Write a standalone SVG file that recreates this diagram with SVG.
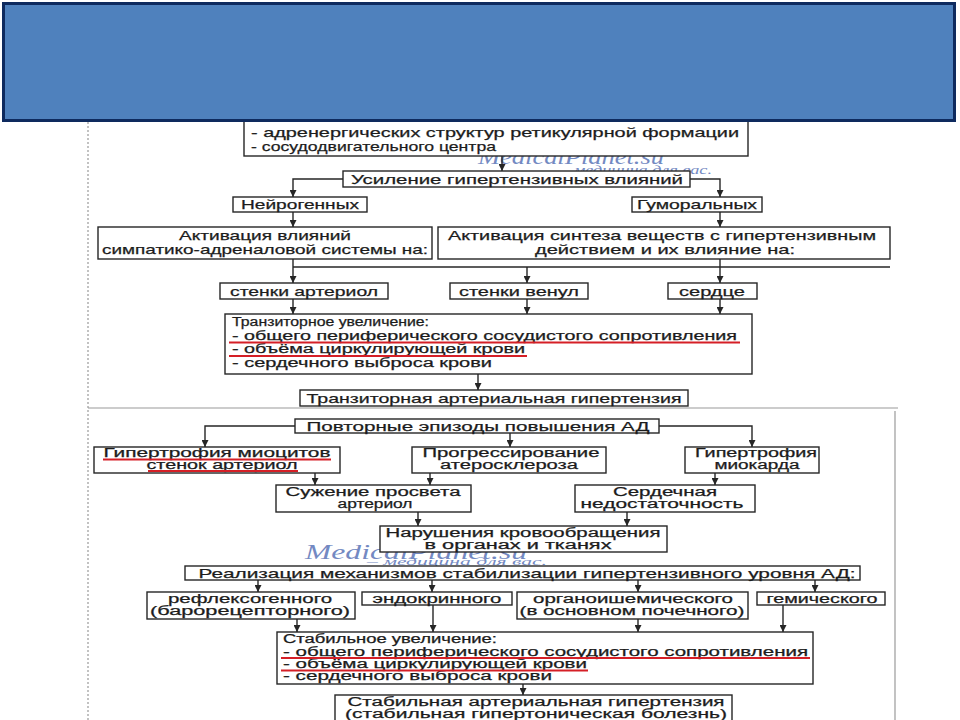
<svg xmlns="http://www.w3.org/2000/svg" width="960" height="720" viewBox="0 0 960 720">
<style>
.bg{fill:#ffffff}
.box{fill:#ffffff;stroke:#262626;stroke-width:1.4}
.t{font-family:"Liberation Sans",Arial,sans-serif;font-size:13.5px;fill:#1c1c1c;stroke:#1c1c1c;stroke-width:0.25}
.m{font-size:12px}
.c{text-anchor:middle}
.con{fill:none;stroke:#262626;stroke-width:1.4}
.red{stroke:#d51f26;stroke-width:2;fill:none}
.wm{font-family:"Liberation Serif","Times New Roman",serif;font-style:italic;fill:#7389c2}
.pan{stroke:#9a9a9a;stroke-width:1.2;fill:none}
</style>
<defs>
<marker id="ar" viewBox="0 0 8 8" refX="8" refY="4" markerWidth="7" markerHeight="7" markerUnits="userSpaceOnUse" orient="auto">
<path d="M0,0 L8,4 L0,8 z" fill="#262626"/>
</marker>
</defs>
<rect class="bg" x="0" y="0" width="960" height="720"/>

<g id="panels">
<line class="pan" x1="88" y1="122" x2="88" y2="720" stroke-dasharray="2 2"/>
<line class="pan" x1="88" y1="408" x2="898" y2="408"/>
<line class="pan" x1="895" y1="411" x2="895" y2="720"/>
</g>

<g id="watermark1">
<text class="wm" x="478" y="164" font-size="20" textLength="186" lengthAdjust="spacingAndGlyphs">MedicalPlanet.su</text>
<text class="wm" x="560" y="174" font-size="12" textLength="152" lengthAdjust="spacingAndGlyphs">– медицина для вас.</text>
</g>
<g id="watermark2">
<text class="wm" x="305" y="559" font-size="21" textLength="222" lengthAdjust="spacingAndGlyphs">MedicalPlanet.su</text>
<text class="wm" x="367" y="565" font-size="11" textLength="180" lengthAdjust="spacingAndGlyphs">– медицина для вас.</text>
</g>

<g id="connectors">
<line class="con" x1="502" y1="156" x2="502" y2="171" marker-end="url(#ar)"/>
<polyline class="con" points="343,179 293,179 293,197" marker-end="url(#ar)"/>
<polyline class="con" points="690,179 720,179 720,197" marker-end="url(#ar)"/>
<line class="con" x1="293" y1="212" x2="293" y2="227" marker-end="url(#ar)"/>
<line class="con" x1="720" y1="212" x2="720" y2="227" marker-end="url(#ar)"/>
<line class="con" x1="293" y1="259" x2="293" y2="283" marker-end="url(#ar)"/>
<line class="con" x1="293" y1="267" x2="890" y2="267" stroke="#555" stroke-width="1"/>
<line class="con" x1="720" y1="259" x2="720" y2="283" marker-end="url(#ar)"/>
<line class="con" x1="527" y1="267" x2="527" y2="283" marker-end="url(#ar)"/>
<line class="con" x1="293" y1="299" x2="293" y2="314" marker-end="url(#ar)"/>
<line class="con" x1="527" y1="299" x2="527" y2="314" marker-end="url(#ar)"/>
<line class="con" x1="720" y1="299" x2="720" y2="314" marker-end="url(#ar)"/>
<line class="con" x1="478" y1="374" x2="478" y2="390" marker-end="url(#ar)"/>

<polyline class="con" points="295,426 205,426 205,447" marker-end="url(#ar)"/>
<polyline class="con" points="659,426 752,426 752,447" marker-end="url(#ar)"/>
<line class="con" x1="510" y1="433" x2="510" y2="447" marker-end="url(#ar)"/>
<line class="con" x1="315" y1="473" x2="315" y2="485" marker-end="url(#ar)"/>
<line class="con" x1="430" y1="473" x2="430" y2="485" marker-end="url(#ar)"/>
<line class="con" x1="715" y1="473" x2="715" y2="485" marker-end="url(#ar)"/>
<line class="con" x1="418" y1="512" x2="418" y2="526" marker-end="url(#ar)"/>
<line class="con" x1="627" y1="512" x2="627" y2="526" marker-end="url(#ar)"/>
<line class="con" x1="258" y1="580" x2="258" y2="592" marker-end="url(#ar)"/>
<line class="con" x1="432" y1="580" x2="432" y2="592" marker-end="url(#ar)"/>
<line class="con" x1="638" y1="580" x2="638" y2="592" marker-end="url(#ar)"/>
<line class="con" x1="815" y1="580" x2="815" y2="592" marker-end="url(#ar)"/>
<line class="con" x1="297" y1="619" x2="297" y2="632" marker-end="url(#ar)"/>
<line class="con" x1="433" y1="605" x2="433" y2="632" marker-end="url(#ar)"/>
<line class="con" x1="638" y1="619" x2="638" y2="632" marker-end="url(#ar)"/>
<line class="con" x1="783" y1="605" x2="783" y2="632" marker-end="url(#ar)"/>
<line class="con" x1="523" y1="684" x2="523" y2="695" marker-end="url(#ar)"/>
</g>

<g id="n-centers">
<rect class="box" x="244" y="100" width="504" height="56"/>
<text class="t" x="251" y="137" textLength="488" lengthAdjust="spacingAndGlyphs">- адренергических структур ретикулярной формации</text>
<text class="t" x="251" y="151" textLength="245" lengthAdjust="spacingAndGlyphs">- сосудодвигательного центра</text>
</g>
<g id="n-usilenie">
<rect class="box" x="343" y="171" width="347" height="16"/>
<text class="t c" x="517" y="184" textLength="332" lengthAdjust="spacingAndGlyphs">Усиление гипертензивных влияний</text>
</g>
<g id="n-neiro">
<rect class="box" x="233" y="197" width="134" height="15"/>
<text class="t c" x="300" y="209" textLength="118" lengthAdjust="spacingAndGlyphs">Нейрогенных</text>
</g>
<g id="n-gumor">
<rect class="box" x="632" y="197" width="130" height="15"/>
<text class="t c" x="697" y="209" textLength="120" lengthAdjust="spacingAndGlyphs">Гуморальных</text>
</g>
<g id="n-simpat">
<rect class="box" x="98" y="227" width="334" height="32"/>
<text class="t c" x="265" y="240" textLength="172" lengthAdjust="spacingAndGlyphs">Активация влияний</text>
<text class="t c" x="265" y="254" textLength="326" lengthAdjust="spacingAndGlyphs">симпатико-адреналовой системы на:</text>
</g>
<g id="n-sintez">
<rect class="box" x="438" y="227" width="452" height="32"/>
<text class="t c" x="662" y="240" textLength="428" lengthAdjust="spacingAndGlyphs">Активация синтеза веществ с гипертензивным</text>
<text class="t c" x="665" y="254" textLength="260" lengthAdjust="spacingAndGlyphs">действием и их влияние на:</text>
</g>
<g id="n-arteriol">
<rect class="box" x="220" y="283" width="168" height="16"/>
<text class="t c" x="304" y="296" textLength="148" lengthAdjust="spacingAndGlyphs">стенки артериол</text>
</g>
<g id="n-venul">
<rect class="box" x="450" y="283" width="138" height="16"/>
<text class="t c" x="519" y="296" textLength="120" lengthAdjust="spacingAndGlyphs">стенки венул</text>
</g>
<g id="n-serdce">
<rect class="box" x="668" y="283" width="89" height="16"/>
<text class="t c" x="712" y="296" textLength="66" lengthAdjust="spacingAndGlyphs">сердце</text>
</g>
<g id="n-tranz-uvel">
<rect class="box" x="225" y="314" width="527" height="60"/>
<text class="t m" x="232" y="326" textLength="197" lengthAdjust="spacingAndGlyphs">Транзиторное увеличение:</text>
<text class="t m" x="232" y="340" textLength="505" lengthAdjust="spacingAndGlyphs">- общего периферического сосудистого сопротивления</text>
<text class="t m" x="232" y="353" textLength="293" lengthAdjust="spacingAndGlyphs">- объёма циркулирующей крови</text>
<text class="t m" x="232" y="367" textLength="260" lengthAdjust="spacingAndGlyphs">- сердечного выброса крови</text>
<line class="red" x1="229" y1="342.5" x2="740" y2="342.5"/>
<line class="red" x1="229" y1="356" x2="527" y2="356"/>
</g>
<g id="n-tranz-ag">
<rect class="box" x="300" y="390" width="388" height="16"/>
<text class="t c" x="494" y="403" textLength="375" lengthAdjust="spacingAndGlyphs">Транзиторная артериальная гипертензия</text>
</g>

<g id="n-povtor">
<rect class="box" x="295" y="419" width="364" height="14"/>
<text class="t c" x="478" y="431" textLength="343" lengthAdjust="spacingAndGlyphs">Повторные эпизоды повышения АД</text>
</g>
<g id="n-gipert-mio">
<rect class="box" x="94" y="447" width="246" height="26"/>
<text class="t c m" x="217" y="457" textLength="227" lengthAdjust="spacingAndGlyphs">Гипертрофия миоцитов</text>
<text class="t c m" x="222" y="469" textLength="151" lengthAdjust="spacingAndGlyphs">стенок артериол</text>
<line class="red" x1="103" y1="459.5" x2="331" y2="459.5"/>
<line class="red" x1="148" y1="471" x2="298" y2="471"/>
</g>
<g id="n-progress">
<rect class="box" x="412" y="447" width="194" height="26"/>
<text class="t c m" x="511" y="457" textLength="177" lengthAdjust="spacingAndGlyphs">Прогрессирование</text>
<text class="t c m" x="509" y="469" textLength="138" lengthAdjust="spacingAndGlyphs">атеросклероза</text>
</g>
<g id="n-gipert-miokard">
<rect class="box" x="685" y="447" width="134" height="26"/>
<text class="t c m" x="756" y="457" textLength="122" lengthAdjust="spacingAndGlyphs">Гипертрофия</text>
<text class="t c m" x="757" y="469" textLength="85" lengthAdjust="spacingAndGlyphs">миокарда</text>
</g>
<g id="n-suzhenie">
<rect class="box" x="276" y="485" width="195" height="27"/>
<text class="t c m" x="373" y="496" textLength="175" lengthAdjust="spacingAndGlyphs">Сужение просвета</text>
<text class="t c m" x="375" y="508" textLength="75" lengthAdjust="spacingAndGlyphs">артериол</text>
</g>
<g id="n-serd-nedost">
<rect class="box" x="575" y="485" width="180" height="27"/>
<text class="t c m" x="665" y="496" textLength="104" lengthAdjust="spacingAndGlyphs">Сердечная</text>
<text class="t c m" x="662" y="508" textLength="163" lengthAdjust="spacingAndGlyphs">недостаточность</text>
</g>
<g id="n-narush">
<rect class="box" x="380" y="526" width="287" height="26"/>
<text class="t c m" x="523" y="537" textLength="275" lengthAdjust="spacingAndGlyphs">Нарушения кровообращения</text>
<text class="t c m" x="518" y="549" textLength="187" lengthAdjust="spacingAndGlyphs">в органах и тканях</text>
</g>
<g id="n-realiz">
<rect class="box" x="185" y="566" width="675" height="14"/>
<text class="t c" x="527" y="578" textLength="657" lengthAdjust="spacingAndGlyphs">Реализация механизмов стабилизации гипертензивного уровня АД:</text>
</g>
<g id="n-reflex">
<rect class="box" x="147" y="592" width="208" height="27"/>
<text class="t c m" x="250" y="603" textLength="164" lengthAdjust="spacingAndGlyphs">рефлексогенного</text>
<text class="t c m" x="250" y="615" textLength="200" lengthAdjust="spacingAndGlyphs">(барорецепторного)</text>
</g>
<g id="n-endokr">
<rect class="box" x="362" y="592" width="150" height="13"/>
<text class="t c m" x="437" y="603" textLength="129" lengthAdjust="spacingAndGlyphs">эндокринного</text>
</g>
<g id="n-organo">
<rect class="box" x="517" y="592" width="231" height="27"/>
<text class="t c m" x="633" y="603" textLength="200" lengthAdjust="spacingAndGlyphs">органоишемического</text>
<text class="t c m" x="632" y="615" textLength="225" lengthAdjust="spacingAndGlyphs">(в основном почечного)</text>
</g>
<g id="n-gemich">
<rect class="box" x="757" y="592" width="128" height="13"/>
<text class="t c m" x="822" y="603" textLength="111" lengthAdjust="spacingAndGlyphs">гемического</text>
</g>
<g id="n-stab-uvel">
<rect class="box" x="277" y="632" width="536" height="52"/>
<text class="t m" x="283" y="643" textLength="214" lengthAdjust="spacingAndGlyphs">Стабильное увеличение:</text>
<text class="t m" x="283" y="655.5" textLength="525" lengthAdjust="spacingAndGlyphs">- общего периферического сосудистого сопротивления</text>
<text class="t m" x="283" y="668" textLength="304" lengthAdjust="spacingAndGlyphs">- объёма циркулирующей крови</text>
<text class="t m" x="283" y="680" textLength="269" lengthAdjust="spacingAndGlyphs">- сердечного выброса крови</text>
<line class="red" x1="281" y1="658" x2="810" y2="658"/>
<line class="red" x1="281" y1="670.5" x2="588" y2="670.5"/>
</g>
<g id="n-stab-ag">
<rect class="box" x="335" y="695" width="397" height="32"/>
<text class="t c m" x="536" y="706" textLength="377" lengthAdjust="spacingAndGlyphs">Стабильная артериальная гипертензия</text>
<text class="t c m" x="536" y="718" textLength="382" lengthAdjust="spacingAndGlyphs">(стабильная гипертоническая болезнь)</text>
</g>

<g id="header">
<rect x="3.5" y="3.5" width="951" height="117" fill="#4f81bd" stroke="#0e2a5e" stroke-width="3"/>
</g>
</svg>
